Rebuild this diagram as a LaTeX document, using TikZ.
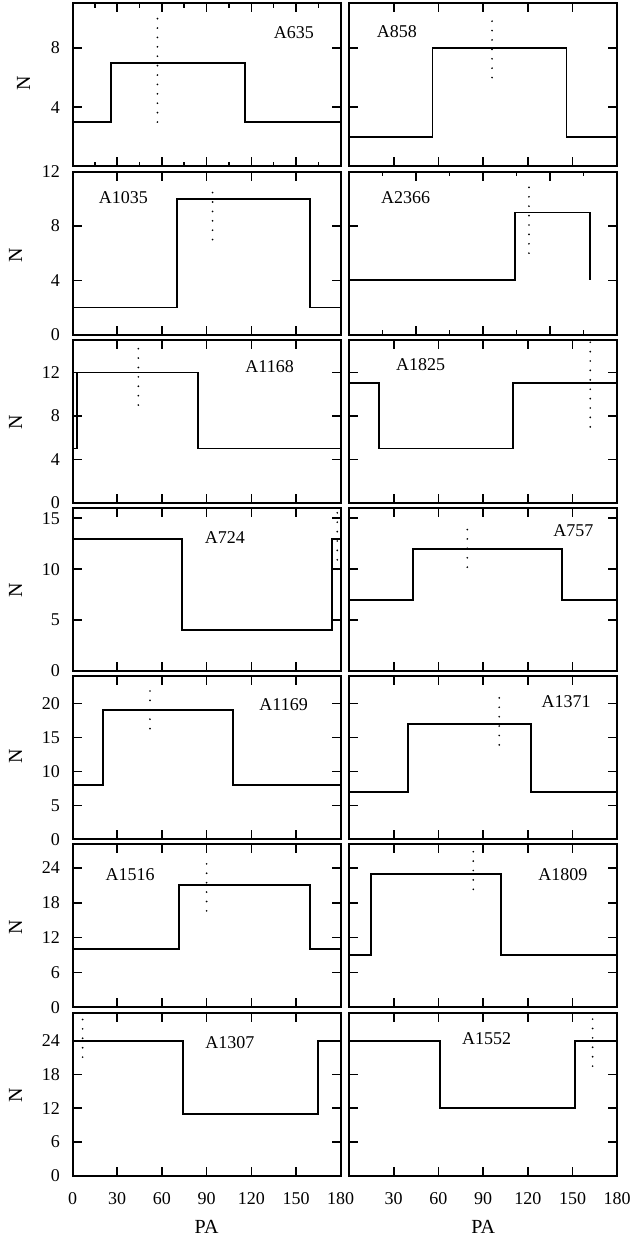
\documentclass[tikz,border=0pt]{standalone}
\usepackage{fontspec}
\setmainfont{Liberation Serif}
\tikzset{
  frame/.style={line width=2pt},
  tickline/.style={line width=1.6pt},
  stepline/.style={line width=1.8pt, line join=miter},
  dotline/.style={line width=1.9pt, line cap=round, dash pattern=on 0pt off 9.4pt},
  ticknum/.style={inner sep=0pt, font=\fontsize{18}{18}\selectfont},
  ylab/.style={ticknum, anchor=east, xshift=-12.5pt},
  xlab/.style={ticknum, yshift=-22.6pt},
  clname/.style={inner sep=0pt, font=\fontsize{18}{18}\selectfont},
  axlab/.style={inner sep=0pt, font=\fontsize{20}{20}\selectfont}
}
\begin{document}
\begin{tikzpicture}[x=1pt,y=1pt]
\useasboundingbox (0,0) rectangle (636,1241);
\begin{scope}[shift={(72.5pt,1074.5pt)},x=1.49pt,y=14.818pt]
\draw[stepline] (0,3) -- (26,3) -- (26,7) -- (116,7) -- (116,3) -- (180,3);
\draw[dotline] (57,3) -- (57,10);
\foreach \t in {30,60,...,150} \draw[tickline] (\t,0) -- ++(0,9pt) (\t,11) -- ++(0,-9pt);
\foreach \t in {15,45,...,165} \draw[tickline] (\t,0) -- ++(0,4.5pt) (\t,11) -- ++(0,-4.5pt);
\foreach \t in {4,8} {\draw[tickline] (0,\t) -- ++(9pt,0) (180,\t) -- ++(-9pt,0); \node[ylab] (y635-\t) at (0,\t) {\t};}
\draw[frame] (0,0) rectangle (180,11);
\node[clname] (n635) at (148.6,9.0) {A635};
\end{scope}
\begin{scope}[shift={(349pt,1074.5pt)},x=1.49pt,y=14.818pt]
\draw[stepline] (0,2) -- (56,2) -- (56,8) -- (146,8) -- (146,2) -- (180,2);
\draw[dotline] (96,6) -- (96,10);
\foreach \t in {30,60,...,150} \draw[tickline] (\t,0) -- ++(0,9pt) (\t,11) -- ++(0,-9pt);
\foreach \t in {4,8} \draw[tickline] (0,\t) -- ++(9pt,0) (180,\t) -- ++(-9pt,0);
\draw[frame] (0,0) rectangle (180,11);
\node[clname] (n858) at (32.2,9.1) {A858};
\end{scope}
\begin{scope}[shift={(72.5pt,906.3pt)},x=1.49pt,y=13.583pt]
\draw[stepline] (0,2) -- (70,2) -- (70,10) -- (159.4,10) -- (159.4,2) -- (180,2);
\draw[dotline] (94,7) -- (94,10.6);
\foreach \t in {30,60,...,150} \draw[tickline] (\t,0) -- ++(0,9pt) (\t,12) -- ++(0,-9pt);
\foreach \t in {4,8} \draw[tickline] (0,\t) -- ++(9pt,0) (180,\t) -- ++(-9pt,0);
\foreach \t in {0,4,8,12} \node[ylab] (y1035-\t) at (0,\t) {\t};
\draw[frame] (0,0) rectangle (180,12);
\node[clname] (n1035) at (34.1,10.1) {A1035};
\end{scope}
\begin{scope}[shift={(349pt,906.3pt)},x=1.341pt,y=13.583pt]
\draw[stepline] (0,4) -- (123.8,4) -- (123.8,9) -- (180,9) -- (180,4);
\draw[dotline] (134.2,6) -- (134.2,11);
\foreach \t in {50,100,150} \draw[tickline] (\t,0) -- ++(0,9pt) (\t,12) -- ++(0,-9pt);
\foreach \t in {25,75,...,175} \draw[tickline] (\t,0) -- ++(0,4.5pt) (\t,12) -- ++(0,-4.5pt);
\foreach \t in {4,8} \draw[tickline] (0,\t) -- ++(9pt,0) (200,\t) -- ++(-9pt,0);
\draw[frame] (0,0) rectangle (200,12);
\node[clname] (n2366) at (42.3,10.1) {A2366};
\end{scope}
\begin{scope}[shift={(72.5pt,738.1pt)},x=1.49pt,y=10.867pt]
\draw[stepline] (0,5) -- (3.2,5) -- (3.2,12) -- (84.4,12) -- (84.4,5) -- (180,5);
\draw[dotline] (44.2,9) -- (44.2,14.5);
\foreach \t in {30,60,...,150} \draw[tickline] (\t,0) -- ++(0,9pt) (\t,15) -- ++(0,-9pt);
\foreach \t in {4,8,12} \draw[tickline] (0,\t) -- ++(9pt,0) (180,\t) -- ++(-9pt,0);
\foreach \t in {0,4,8,12} \node[ylab] (y1168-\t) at (0,\t) {\t};
\draw[frame] (0,0) rectangle (180,15);
\node[clname] (n1168) at (132.3,12.5) {A1168};
\end{scope}
\begin{scope}[shift={(349pt,738.1pt)},x=1.49pt,y=10.867pt]
\draw[stepline] (0,11) -- (20.3,11) -- (20.3,5) -- (110.2,5) -- (110.2,11) -- (180,11);
\draw[dotline] (161.9,7) -- (161.9,15);
\foreach \t in {30,60,...,150} \draw[tickline] (\t,0) -- ++(0,9pt) (\t,15) -- ++(0,-9pt);
\foreach \t in {4,8,12} \draw[tickline] (0,\t) -- ++(9pt,0) (180,\t) -- ++(-9pt,0);
\draw[frame] (0,0) rectangle (180,15);
\node[clname] (n1825) at (48.1,12.7) {A1825};
\end{scope}
\begin{scope}[shift={(72.5pt,569.9pt)},x=1.49pt,y=10.1875pt]
\draw[stepline] (0,13) -- (73.3,13) -- (73.3,4) -- (173.9,4) -- (173.9,13) -- (180,13);
\draw[dotline] (177.7,10) -- (177.7,16);
\foreach \t in {30,60,...,150} \draw[tickline] (\t,0) -- ++(0,9pt) (\t,16) -- ++(0,-9pt);
\foreach \t in {5,10,15} \draw[tickline] (0,\t) -- ++(9pt,0) (180,\t) -- ++(-9pt,0);
\foreach \t in {0,5,10,15} \node[ylab] (y724-\t) at (0,\t) {\t};
\draw[frame] (0,0) rectangle (180,16);
\node[clname] (n724) at (102.3,13.1) {A724};
\end{scope}
\begin{scope}[shift={(349pt,569.9pt)},x=1.49pt,y=10.1875pt]
\draw[stepline] (0,7) -- (43.1,7) -- (43.1,12) -- (142.7,12) -- (142.7,7) -- (180,7);
\draw[dotline] (79.4,10.2) -- (79.4,14);
\foreach \t in {30,60,...,150} \draw[tickline] (\t,0) -- ++(0,9pt) (\t,16) -- ++(0,-9pt);
\foreach \t in {5,10,15} \draw[tickline] (0,\t) -- ++(9pt,0) (180,\t) -- ++(-9pt,0);
\draw[frame] (0,0) rectangle (180,16);
\node[clname] (n757) at (150.5,13.8) {A757};
\end{scope}
\begin{scope}[shift={(72.5pt,401.7pt)},x=1.49pt,y=6.7917pt]
\draw[stepline] (0,8) -- (20.3,8) -- (20.3,19) -- (107.9,19) -- (107.9,8) -- (180,8);
\draw[dotline] (52,16.3) -- (52,22);
\foreach \t in {30,60,...,150} \draw[tickline] (\t,0) -- ++(0,9pt) (\t,24) -- ++(0,-9pt);
\foreach \t in {5,10,15,20} \draw[tickline] (0,\t) -- ++(9pt,0) (180,\t) -- ++(-9pt,0);
\foreach \t in {0,5,10,15,20} \node[ylab] (y1169-\t) at (0,\t) {\t};
\draw[frame] (0,0) rectangle (180,24);
\node[clname] (n1169) at (141.7,19.9) {A1169};
\end{scope}
\begin{scope}[shift={(349pt,401.7pt)},x=1.49pt,y=6.7917pt]
\draw[stepline] (0,7) -- (39.4,7) -- (39.4,17) -- (122.1,17) -- (122.1,7) -- (180,7);
\draw[dotline] (100.8,13.9) -- (100.8,21);
\foreach \t in {30,60,...,150} \draw[tickline] (\t,0) -- ++(0,9pt) (\t,24) -- ++(0,-9pt);
\foreach \t in {5,10,15,20} \draw[tickline] (0,\t) -- ++(9pt,0) (180,\t) -- ++(-9pt,0);
\draw[frame] (0,0) rectangle (180,24);
\node[clname] (n1371) at (145.7,20.3) {A1371};
\end{scope}
\begin{scope}[shift={(72.5pt,233.5pt)},x=1.49pt,y=5.8214pt]
\draw[stepline] (0,10) -- (71.7,10) -- (71.7,21) -- (159.4,21) -- (159.4,10) -- (180,10);
\draw[dotline] (90,16.6) -- (90,25);
\foreach \t in {30,60,...,150} \draw[tickline] (\t,0) -- ++(0,9pt) (\t,28) -- ++(0,-9pt);
\foreach \t in {6,12,18,24} \draw[tickline] (0,\t) -- ++(9pt,0) (180,\t) -- ++(-9pt,0);
\foreach \t in {0,6,12,18,24} \node[ylab] (y1516-\t) at (0,\t) {\t};
\draw[frame] (0,0) rectangle (180,28);
\node[clname] (n1516) at (38.6,22.8) {A1516};
\end{scope}
\begin{scope}[shift={(349pt,233.5pt)},x=1.49pt,y=5.8214pt]
\draw[stepline] (0,9) -- (14.8,9) -- (14.8,23) -- (101.8,23) -- (101.8,9) -- (180,9);
\draw[dotline] (83.4,20.3) -- (83.4,27);
\foreach \t in {30,60,...,150} \draw[tickline] (\t,0) -- ++(0,9pt) (\t,28) -- ++(0,-9pt);
\foreach \t in {6,12,18,24} \draw[tickline] (0,\t) -- ++(9pt,0) (180,\t) -- ++(-9pt,0);
\draw[frame] (0,0) rectangle (180,28);
\node[clname] (n1809) at (143.6,22.8) {A1809};
\end{scope}
\begin{scope}[shift={(72.5pt,65.3pt)},x=1.49pt,y=5.6207pt]
\draw[stepline] (0,24) -- (73.9,24) -- (73.9,11) -- (164.9,11) -- (164.9,24) -- (180,24);
\draw[dotline] (6.8,21.1) -- (6.8,28);
\foreach \t in {30,60,...,150} \draw[tickline] (\t,0) -- ++(0,9pt) (\t,29) -- ++(0,-9pt);
\foreach \t in {6,12,18,24} \draw[tickline] (0,\t) -- ++(9pt,0) (180,\t) -- ++(-9pt,0);
\foreach \t in {0,6,12,18,24} \node[ylab] (y1307-\t) at (0,\t) {\t};
\foreach \t in {0,30,...,180} \node[xlab] (x1307-\t) at (\t,0) {\t};
\draw[frame] (0,0) rectangle (180,29);
\node[clname] (n1307) at (105.7,23.6) {A1307};
\end{scope}
\begin{scope}[shift={(349pt,65.3pt)},x=1.49pt,y=5.6207pt]
\draw[stepline] (0,24) -- (61.1,24) -- (61.1,12) -- (151.6,12) -- (151.6,24) -- (180,24);
\draw[dotline] (163.5,19.5) -- (163.5,28);
\foreach \t in {30,60,...,150} \draw[tickline] (\t,0) -- ++(0,9pt) (\t,29) -- ++(0,-9pt);
\foreach \t in {6,12,18,24} \draw[tickline] (0,\t) -- ++(9pt,0) (180,\t) -- ++(-9pt,0);
\foreach \t in {30,60,...,180} \node[xlab] (x1552-\t) at (\t,0) {\t};
\draw[frame] (0,0) rectangle (180,29);
\node[clname] (n1552) at (92.4,24.3) {A1552};
\end{scope}
\node[axlab,rotate=90] (yt1) at (23.7,1158) {N};
\node[axlab,rotate=90] (yt2) at (15.5,986) {N};
\node[axlab,rotate=90] (yt3) at (15.5,819) {N};
\node[axlab,rotate=90] (yt4) at (15.5,651) {N};
\node[axlab,rotate=90] (yt5) at (15.5,485) {N};
\node[axlab,rotate=90] (yt6) at (15.5,314) {N};
\node[axlab,rotate=90] (yt7) at (15.5,145.5) {N};
\node[axlab] (pa1) at (206.6,14.5) {PA};
\node[axlab] (pa2) at (483.2,14.5) {PA};
\end{tikzpicture}
\end{document}
